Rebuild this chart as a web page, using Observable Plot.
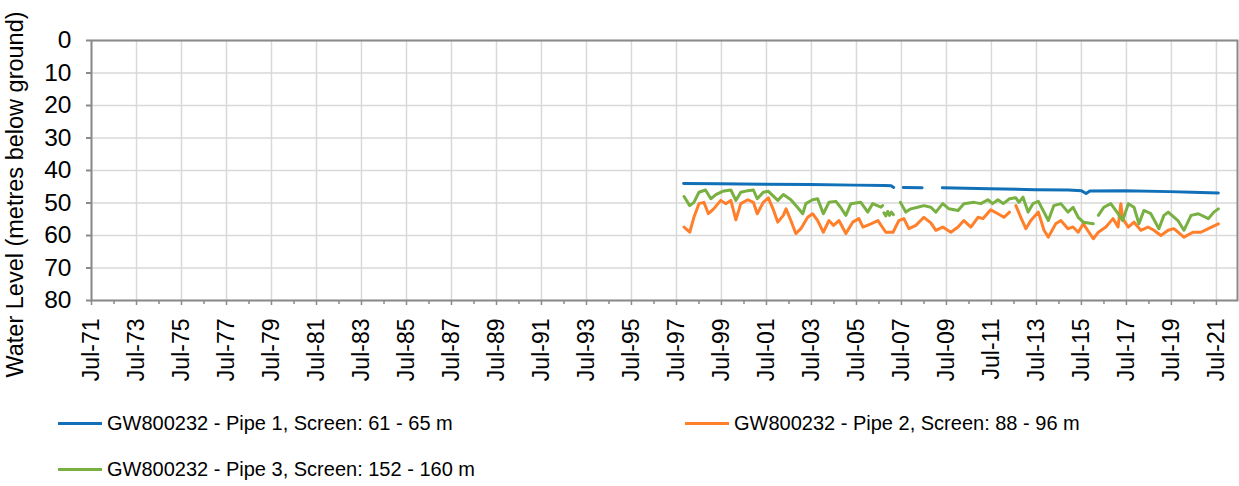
<!DOCTYPE html>
<html><head><meta charset="utf-8">
<script src="https://cdn.jsdelivr.net/npm/d3@7"></script>
<script src="https://cdn.jsdelivr.net/npm/@observablehq/plot@0.6"></script>
<style>
body{margin:0;background:#fff;font-family:"Liberation Sans",Arial,sans-serif;}
#legend{position:relative;width:1239px;height:91px;}
.item{position:absolute;display:flex;align-items:center;height:24px;font-size:20px;color:#000;white-space:nowrap;}
.sw{width:44px;height:3px;margin-right:5px;}
</style></head><body>
<div id="chart"></div>
<div id="legend"></div>
<script>
const seriesNames = ["GW800232 - Pipe 1, Screen: 61 - 65 m","GW800232 - Pipe 2, Screen: 88 - 96 m","GW800232 - Pipe 3, Screen: 152 - 160 m"];
const seriesColors = ["#1170b8","#ff7f2a","#78b042"];
const yTickValues = [0,10,20,30,40,50,60,70,80];
const majorTickYears = [1971,1973,1975,1977,1979,1981,1983,1985,1987,1989,1991,1993,1995,1997,1999,2001,2003,2005,2007,2009,2011,2013,2015,2017,2019,2021];
const minorTickYears = [1972,1974,1976,1978,1980,1982,1984,1986,1988,1990,1992,1994,1996,1998,2000,2002,2004,2006,2008,2010,2012,2014,2016,2018,2020];
const yTitle = "Water Level (metres below ground)";

const pipe1Dates = ["1997-10-25","1999-06-01","2001-06-01","2003-06-01","2005-06-01","2006-10-01","2007-01-15","2007-02-25","2007-05-01","2007-08-01","2008-06-01","2008-10-01","2009-04-25","2011-06-01","2013-06-01","2014-12-01","2015-07-01","2015-09-15","2015-11-15","2017-06-01","2019-06-01","2020-06-01","2021-08-01"];
const pipe1Levels = [44.0,44.1,44.2,44.3,44.5,44.6,44.7,45.2,null,45.2,45.3,null,45.3,45.6,45.9,46.0,46.2,47.1,46.3,46.2,46.5,46.7,46.9];

const pipe2Dates = ["1997-11-01","1998-02-01","1998-04-10","1998-07-01","1998-09-20","1998-12-01","1999-02-25","1999-06-20","1999-09-10","1999-12-01","2000-02-20","2000-05-10","2000-09-01","2000-12-01","2001-02-01","2001-05-10","2001-08-01","2001-10-15","2002-01-01","2002-04-01","2002-05-15","2002-08-01","2002-10-20","2003-01-10","2003-05-01","2003-07-20","2003-10-10","2004-01-10","2004-04-10","2004-06-25","2004-09-20","2005-01-10","2005-05-01","2005-08-10","2005-10-15","2006-02-20","2006-06-15","2006-10-20","2007-02-15","2007-05-20","2007-08-10","2007-10-30","2008-02-20","2008-06-30","2008-10-20","2009-01-10","2009-05-01","2009-09-10","2010-01-05","2010-04-10","2010-08-01","2010-11-25","2011-02-15","2011-06-20","2011-10-15","2012-01-20","2012-04-20","2012-06-10","2012-08-01","2012-10-20","2013-01-10","2013-04-01","2013-08-01","2013-11-01","2014-01-10","2014-05-10","2014-08-01","2014-11-25","2015-02-15","2015-05-10","2015-08-01","2016-01-10","2016-04-01","2016-08-01","2016-11-25","2017-02-15","2017-04-01","2017-05-01","2017-08-01","2017-11-01","2018-02-20","2018-06-15","2018-09-20","2019-01-10","2019-05-10","2019-08-10","2020-01-20","2020-06-15","2020-10-20","2021-02-20","2021-08-01"];
const pipe2Levels = [57.4,59.0,54.4,50.2,49.8,53.3,51.8,49.2,50.2,49.2,55.2,50.2,49.0,49.8,53.3,49.8,48.4,51.8,55.9,53.8,51.8,55.4,59.4,57.9,54.4,53.3,55.4,59.0,55.4,56.9,55.4,59.4,55.9,54.8,57.4,56.4,55.4,59.0,59.0,55.4,54.8,57.9,56.9,54.4,56.1,58.4,57.4,59.0,57.4,55.4,57.4,54.4,54.8,52.1,53.3,54.4,52.8,null,50.8,54.4,57.9,55.4,52.8,58.4,60.5,56.4,55.4,57.9,57.4,59.0,56.4,61.0,59.0,57.4,54.8,57.4,50.2,54.8,57.4,55.9,58.4,57.4,58.4,60.0,58.4,57.9,60.5,59.0,59.0,57.9,56.4];

const pipe3Dates = ["1997-11-01","1998-02-01","1998-04-10","1998-07-01","1998-10-15","1999-01-10","1999-04-01","1999-07-20","1999-12-01","2000-02-20","2000-05-10","2000-09-01","2000-12-01","2001-02-01","2001-05-10","2001-08-01","2002-01-01","2002-04-01","2002-08-01","2002-11-15","2003-02-10","2003-04-01","2003-07-20","2003-10-10","2004-01-10","2004-04-10","2004-08-01","2004-10-15","2005-01-10","2005-04-01","2005-09-10","2006-01-01","2006-03-20","2006-08-01","2006-08-30","2006-09-05","2006-09-20","2006-10-20","2006-11-20","2006-12-20","2007-01-20","2007-02-20","2007-04-01","2007-06-15","2007-09-10","2007-12-01","2008-03-20","2008-06-30","2008-10-20","2009-01-10","2009-05-01","2009-08-10","2010-01-05","2010-04-10","2010-09-20","2011-01-10","2011-05-05","2011-07-20","2011-10-15","2012-01-10","2012-04-20","2012-08-01","2012-09-20","2012-11-25","2013-02-15","2013-05-05","2013-08-01","2014-01-10","2014-04-10","2014-08-01","2014-11-25","2015-02-15","2015-05-10","2015-08-01","2016-01-10","2016-02-20","2016-04-01","2016-07-01","2016-10-20","2017-02-15","2017-05-01","2017-08-01","2017-11-01","2018-01-20","2018-04-10","2018-08-01","2018-12-10","2019-03-01","2019-05-10","2019-10-15","2020-01-20","2020-05-15","2020-09-10","2021-02-20","2021-05-20","2021-08-01"];
const pipe3Levels = [48.0,50.8,49.8,46.7,46.0,48.7,47.4,46.4,46.0,49.2,46.7,46.2,46.0,48.7,46.7,46.4,49.2,47.4,49.0,51.3,53.3,50.2,49.0,48.7,53.3,49.8,49.5,51.3,53.8,50.2,49.8,52.8,50.2,51.3,50.8,null,53.0,54.0,52.6,53.8,52.8,53.6,null,49.8,52.8,51.8,51.3,50.8,51.3,52.8,50.2,51.8,52.3,50.2,49.8,50.2,49.0,50.2,49.0,50.2,48.7,48.4,49.8,48.2,52.8,50.2,49.5,55.4,50.8,50.2,52.8,51.3,54.4,55.9,56.4,null,53.8,51.3,50.2,53.3,55.4,50.2,51.3,56.4,52.3,53.3,57.9,53.8,52.8,55.4,58.4,53.8,53.3,54.8,52.8,51.8];

const toRows = (dates, levels, k) => dates.map((d, i) => ({date: new Date(d), level: levels[i] == null ? NaN : levels[i], series: seriesNames[k]}));
const rows = [...toRows(pipe1Dates, pipe1Levels, 0), ...toRows(pipe2Dates, pipe2Levels, 1), ...toRows(pipe3Dates, pipe3Levels, 2)];
const majorTicks = majorTickYears.map(y => new Date(Date.UTC(y, 6, 1)));
const minorTicks = minorTickYears.map(y => new Date(Date.UTC(y, 6, 1)));
const axisGrey = "#8a8a8a", gridGrey = "#d9d9d9";

const chart = Plot.plot({
  width: 1239, height: 395,
  marginLeft: 91, marginRight: 2, marginTop: 40, marginBottom: 95,
  style: {fontFamily: "'Liberation Sans', Arial, sans-serif", fontSize: "23px", color: "#000", background: "#fff", overflow: "visible"},
  x: {type: "utc", domain: [new Date(Date.UTC(1971, 6, 1)), new Date(Date.UTC(2022, 5, 8))]},
  y: {domain: [0, 80], reverse: true},
  color: {domain: seriesNames, range: seriesColors},
  marks: [
    Plot.gridY(yTickValues, {stroke: gridGrey, strokeOpacity: 1, strokeWidth: 1.5}),
    Plot.gridX(majorTicks, {stroke: gridGrey, strokeOpacity: 1, strokeWidth: 1.5}),
    Plot.lineY(rows, {x: "date", y: "level", z: "series", stroke: "series", strokeWidth: 3, curve: "linear", strokeLinejoin: "round"}),
    Plot.frame({stroke: axisGrey, strokeWidth: 2}),
    Plot.axisY(yTickValues, {anchor: "left", tickSize: 5, tickPadding: 15, fontSize: 24.5, label: null, stroke: axisGrey, strokeWidth: 2, fill: "#000"}),
    Plot.axisX(minorTicks, {anchor: "bottom", tickSize: 4, text: null, label: null, stroke: axisGrey, strokeWidth: 1.5}),
    Plot.axisX(majorTicks, {anchor: "bottom", tickSize: 5, tickPadding: 13, tickRotate: -90, textAnchor: "end", lineAnchor: "middle", fontSize: 23, label: null, stroke: axisGrey, strokeWidth: 1.5, fill: "#000", tickFormat: d => "Jul-" + String(d.getUTCFullYear()).slice(-2)}),
    Plot.text([yTitle], {frameAnchor: "left", textAnchor: "middle", rotate: -90, dx: -76, dy: 24, fontSize: 23.5, fill: "#000"})
  ]
});
document.getElementById("chart").appendChild(chart);

const legend = document.getElementById("legend");
const legendPos = [[58, 16], [685, 16], [58, 62]];
seriesNames.forEach((name, i) => {
  const it = document.createElement("div");
  it.className = "item";
  it.style.left = legendPos[i][0] + "px";
  it.style.top = legendPos[i][1] + "px";
  const sw = document.createElement("span");
  sw.className = "sw";
  sw.style.background = seriesColors[i];
  const tx = document.createElement("span");
  tx.textContent = name;
  it.appendChild(sw); it.appendChild(tx);
  legend.appendChild(it);
});
</script></body></html>
